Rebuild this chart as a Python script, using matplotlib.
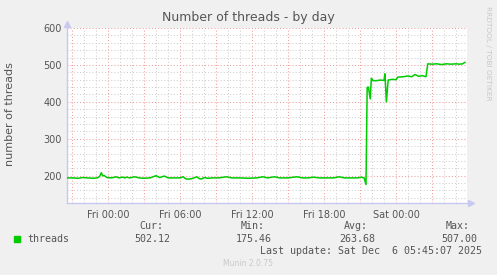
import matplotlib
matplotlib.use("Agg")
import matplotlib.pyplot as plt

# hours relative to Fri 00:00
hours = [-3.4, -3.0, -2.5, -2.1, -1.7, -1.2, -0.9, -0.7, -0.56, -0.45,
         -0.3, -0.1, 0.3, 0.67, 0.9, 1.2, 1.4, 1.55, 1.8, 2.2,
         2.6, 3.0, 3.5, 4.0, 4.3, 4.7, 5.0, 5.5, 6.0, 6.25,
         6.5, 6.8, 7.1, 7.4, 7.6, 7.8, 8.0, 8.3, 8.7, 9.2,
         9.9, 10.3, 11.0, 11.7, 12.4, 12.9, 13.3, 13.9, 14.3, 15.0,
         15.75, 16.2, 16.7, 17.1, 17.6, 18.2, 18.8, 19.25, 19.7, 20.3,
         20.8, 21.1, 21.35, 21.5, 21.6, 21.7, 21.85, 21.95, 22.05, 22.3,
         22.7, 23.0, 23.08, 23.2, 23.35, 23.7, 24.0, 24.15, 24.6, 25.0,
         25.3, 25.6, 25.9, 26.2, 26.5, 26.65, 27.0, 27.4, 27.8, 28.2,
         28.6, 29.0, 29.3, 29.55, 29.75]
threads = [194, 194, 193, 195, 194, 193, 194, 198, 208, 200,
           200, 195, 194, 197, 194, 196, 194, 196, 194, 197,
           194, 193, 194, 200, 195, 199, 194, 194, 194, 197,
           191, 191, 193, 197, 192, 191, 195, 193, 194, 194,
           197, 194, 194, 193, 194, 197, 194, 197, 194, 194,
           197, 194, 194, 196, 194, 194, 194, 197, 194, 194,
           194, 196, 194, 176, 439, 440, 408, 464, 458, 457,
           459, 458, 476, 400, 459, 461, 460, 467, 468, 470,
           468, 474, 469, 471, 468, 503, 502, 503, 501, 503,
           502, 503, 502, 503, 507]

tick_hours = [0, 6, 12, 18, 24]
tick_labels = ["Fri 00:00", "Fri 06:00", "Fri 12:00", "Fri 18:00", "Sat 00:00"]
y_ticks = [200, 300, 400, 500, 600]

stat_names = ["Cur:", "Min:", "Avg:", "Max:"]
stat_values = ["502.12", "175.46", "263.68", "507.00"]

txt = "#555555"
fig = plt.figure(figsize=(4.97, 2.75), dpi=100, facecolor="#F0F0F0")
ax = fig.add_axes([67/497, 1-203/275, 400/497, 175/275])
ax.set_facecolor("white")

x0, x1 = -3.42, 29.92
y0, y1 = 126, 600
ax.set_xlim(x0, x1)
ax.set_ylim(y0, y1)

# grid: red dotted every 3h / 100, grey dotted every 1h / 20
for h in range(-3, 30):
    major = h % 3 == 0
    ax.axvline(h, color="#EE9E9E" if major else "#CFCFCF", lw=0.75,
               ls=(0, (1, 2)), zorder=1)
for v in range(140, 601, 20):
    major = v % 100 == 0
    ax.axhline(v, color="#EE9E9E" if major else "#CFCFCF", lw=0.75,
               ls=(0, (1, 2)), zorder=1)

ax.plot(hours, threads, color="#00CC00", lw=1.1, zorder=3)

for s in ["top", "right"]:
    ax.spines[s].set_visible(False)
for s in ["left", "bottom"]:
    ax.spines[s].set_color("#C8C8F0")
    ax.spines[s].set_linewidth(1)
ax.plot([0], [1.025], marker="^", color="#C8C8F0", ms=4, transform=ax.transAxes, clip_on=False)
ax.plot([1.01], [0], marker=">", color="#C8C8F0", ms=4, transform=ax.transAxes, clip_on=False)

ax.set_xticks(tick_hours)
ax.set_xticklabels(tick_labels)
ax.set_yticks(y_ticks)
ax.tick_params(axis="both", length=0, colors=txt, labelsize=7)
ax.tick_params(axis="x", pad=5)
ax.tick_params(axis="y", pad=4)

fig.text(248/497, 1-17/275, "Number of threads - by day", ha="center", va="center",
         color=txt, fontsize=9)
fig.text(10/497, 1-114/275, "number of threads", rotation=90, ha="center", va="center",
         color=txt, fontsize=8)
fig.text(488/497, 1-53/275, "RRDTOOL / TOBI OETIKER", rotation=270, ha="center", va="center",
         color="#C8C8C8", fontsize=5.3)

mono = "DejaVu Sans Mono"
fig.patches.append(plt.Rectangle((14/497, 1-242/275), 6/497, 6/275, color="#00CC00",
                                 transform=fig.transFigure, figure=fig))
fig.text(27/497, 1-239/275, "threads", ha="left", va="center", family=mono, color=txt, fontsize=7.2)
label_right = [163, 265, 368, 470]
value_right = [170, 272, 375, 477]
for name, val, lr, vr in zip(stat_names, stat_values, label_right, value_right):
    fig.text(lr/497, 1-226/275, name, ha="right", va="center", family=mono, color=txt, fontsize=7.2)
    fig.text(vr/497, 1-239/275, val, ha="right", va="center", family=mono, color=txt, fontsize=7.2)
fig.text(482/497, 1-251/275, "Last update: Sat Dec  6 05:45:07 2025", ha="right", va="center",
         family=mono, color=txt, fontsize=7.2)
fig.text(248/497, 1-264/275, "Munin 2.0.75", ha="center", va="center", color="#C8C8C8", fontsize=5.5)

fig.savefig("out.png", dpi=100, facecolor=fig.get_facecolor())
